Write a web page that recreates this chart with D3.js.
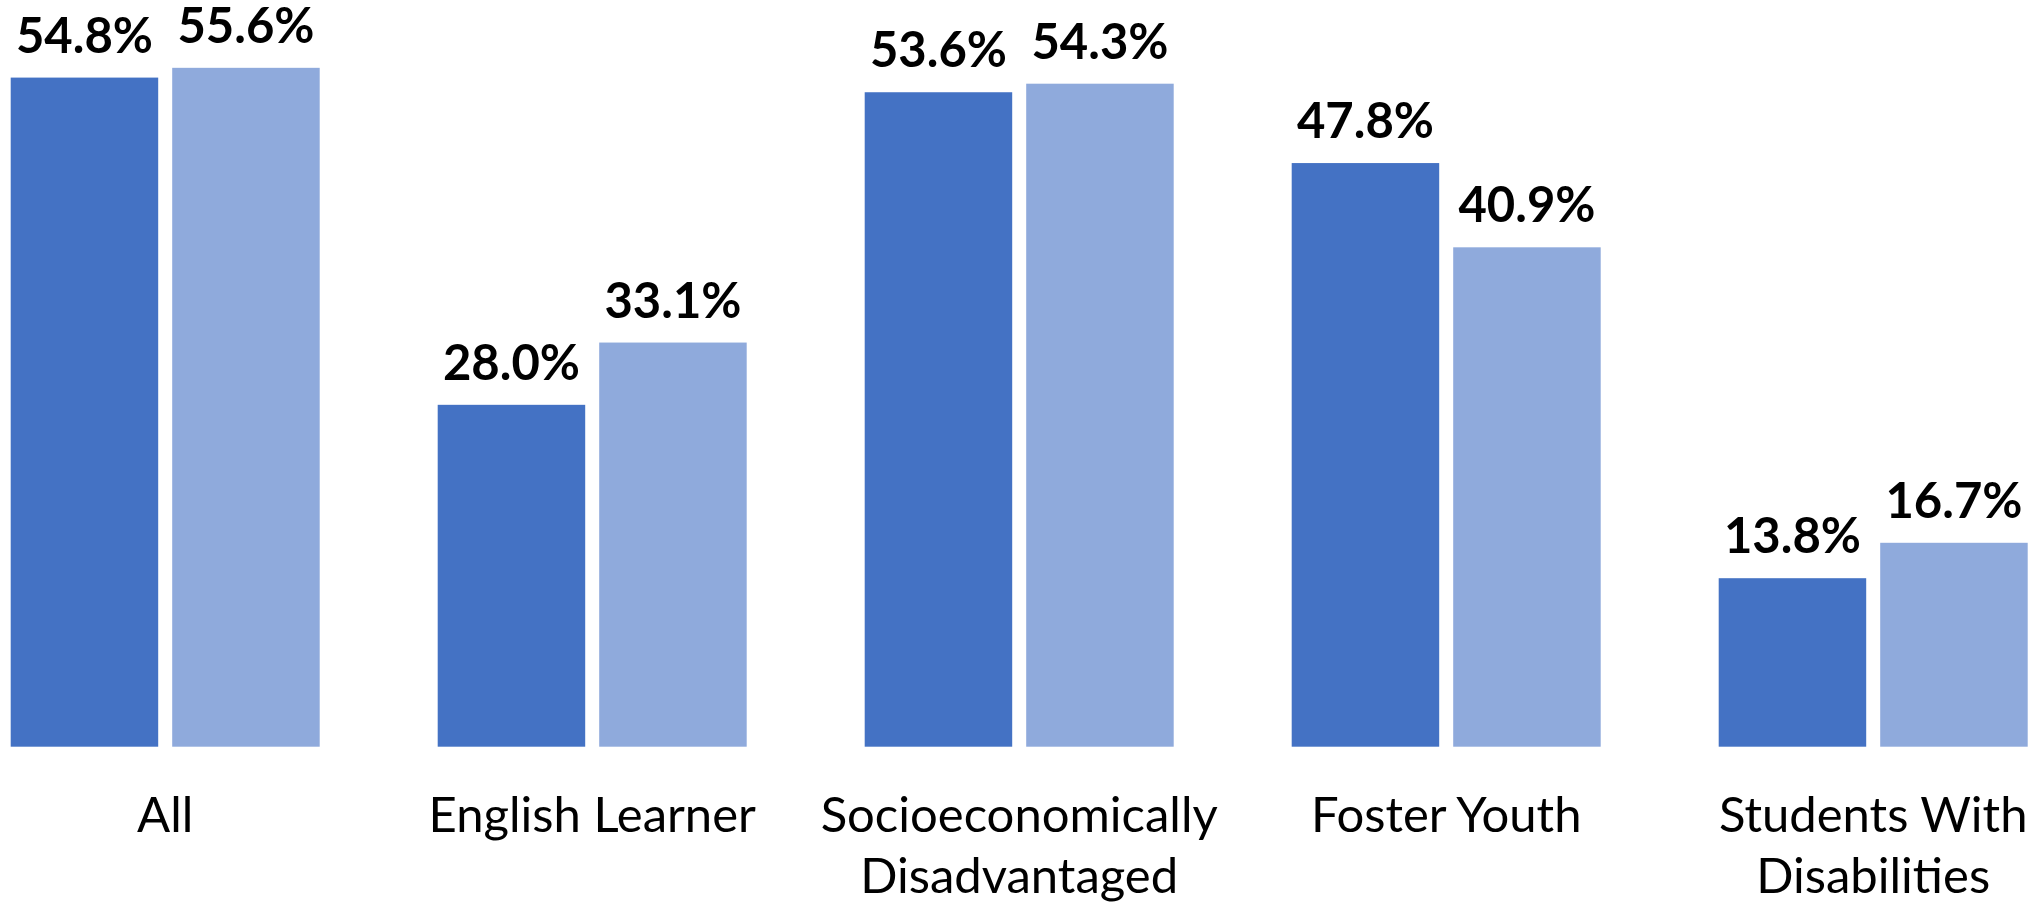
<!DOCTYPE html>
<html>
<head>
<meta charset="utf-8">
<script src="https://cdn.jsdelivr.net/npm/d3@7"></script>
<style>
  html, body { margin: 0; padding: 0; background: #fff; }
  svg { display: block; }
</style>
</head>
<body>
<svg id="chart" width="2039" height="907"></svg>
<script>
const categories = ["All", "English Learner", "Socioeconomically Disadvantaged", "Foster Youth", "Students With Disabilities"];
const categoryLines = [["All"], ["English Learner"], ["Socioeconomically", "Disadvantaged"], ["Foster Youth"], ["Students With", "Disabilities"]];
const seriesNames = ["Series A", "Series B"];
const seriesA = [54.8, 28.0, 53.6, 47.8, 13.8];
const seriesB = [55.6, 33.1, 54.3, 40.9, 16.7];
const seriesColors = ["#4472C4", "#8FAADC"];

const W = 2039, H = 907;
const baseline = 746.7;
const pxPerUnit = 12.21;
const svg = d3.select("#chart");

const x0 = d3.scaleBand().domain(categories).range([-48.3, -48.3 + 427 * 5]).paddingInner(0).paddingOuter(0);
const x1 = d3.scaleBand().domain(seriesNames).range([59, 368]).paddingInner(14 / 161.5).paddingOuter(0);
const y = d3.scaleLinear().domain([0, baseline / pxPerUnit]).range([baseline, 0]);

const data = categories.map((c, i) => ({ cat: c, vals: [seriesA[i], seriesB[i]] }));

const groups = svg.selectAll("g.cat").data(data).join("g")
  .attr("class", "cat")
  .attr("transform", d => `translate(${x0(d.cat)},0)`);

groups.selectAll("rect").data(d => d.vals.map((v, j) => ({ v, s: seriesNames[j], j }))).join("rect")
  .attr("x", d => x1(d.s))
  .attr("width", x1.bandwidth())
  .attr("y", d => y(d.v))
  .attr("height", d => y(0) - y(d.v))
  .attr("fill", d => seriesColors[d.j]);

groups.selectAll("text.val").data(d => d.vals.map((v, j) => ({ v, s: seriesNames[j], j }))).join("text")
  .attr("class", "val")
  .attr("x", d => x1(d.s) + x1.bandwidth() / 2)
  .attr("y", d => y(d.v) - 25)
  .attr("text-anchor", "middle")
  .style("font-family", "Lato, 'Open Sans', sans-serif")
  .style("font-weight", "bold")
  .style("font-size", "49px")
  .attr("fill", "#000")
  .text(d => d.v.toFixed(1) + "%");

groups.each(function(d, i) {
  const t = d3.select(this).append("text")
    .attr("class", "cat-label")
    .attr("text-anchor", "middle")
    .style("font-family", "Lato, 'Open Sans', sans-serif")
    .style("font-size", "49px")
    .attr("fill", "#000");
  categoryLines[i].forEach((line, k) => {
    t.append("tspan")
      .attr("x", x0.bandwidth() / 2)
      .attr("y", 831.7 + k * 61)
      .text(line);
  });
});
</script>
</body>
</html>
